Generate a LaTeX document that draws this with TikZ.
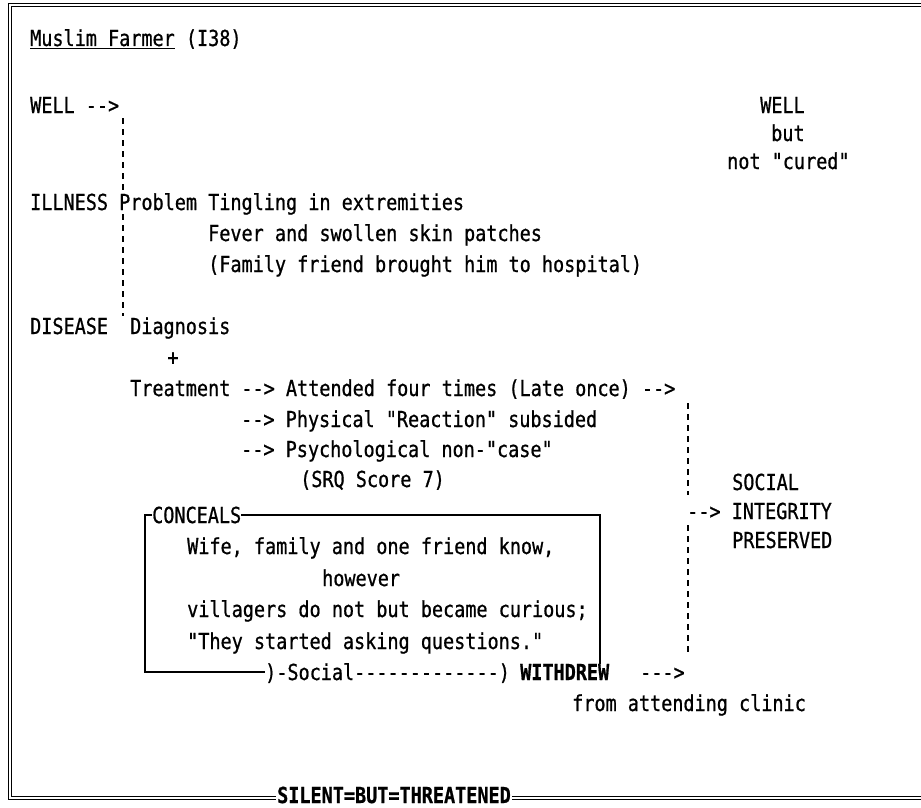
\documentclass[tikz,border=0pt]{standalone}
\usepackage{fontspec}
\setmonofont[FakeStretch=0.84,FakeBold=0.8]{DejaVu Sans Mono}
\usepackage{tikz}

\tikzset{
  typed/.style={font=\ttfamily\fontsize{22}{25}\selectfont, inner sep=0pt,
    text height=16pt, text depth=0pt, anchor=west},
  dashline/.style={line width=1.4pt, dash pattern=on 6pt off 5pt},
  boxline/.style={line width=1.4pt},
  frameline/.style={double, line width=0.9pt, double distance=1.6pt}
}

\begin{document}
\begin{tikzpicture}[x=1pt,y=-1pt]
\useasboundingbox (0,0) rectangle (921,808);
% outer frame, open on the right
\draw[frameline] (921,5) -- (10,5) -- (10,798) -- (921,798);

\node (title) at (30,38) [typed] {\underline{Muslim Farmer} (I38)};

% well -> illness -> disease
\node (wellL) at (30,105) [typed] {WELL -->};
\node (wellR) at (760,105) [typed] {WELL};
\node (but) at (771,133) [typed] {but};
\node (cured) at (727,161) [typed] {not "cured"};
\node (illness) at (30,202) [typed] {ILLNESS Problem Tingling in extremities};
\node (fever) at (208,233) [typed] {Fever and swollen skin patches};
\node (family) at (208,264) [typed] {(Family friend brought him to hospital)};
\node (disease) at (30,326) [typed] {DISEASE};
\node (diag) at (130,326) [typed] {Diagnosis};
\node (plus) at (173,357) [typed,anchor=center] {+};
\coordinate (ldA) at (123,118);
\coordinate (ldB) at (123,190);
\coordinate (ldC) at (123,214);
\coordinate (ldD) at (123,316);
\draw[dashline] (ldA) -- (ldB);
\draw[dashline] (ldC) -- (ldD);

% treatment
\node (treat) at (130,388) [typed] {Treatment --> Attended four times (Late once) -->};
\node (phys) at (241,419) [typed] {--> Physical "Reaction" subsided};
\node (psych) at (241,449) [typed] {--> Psychological non-"case"};
\node (srq) at (300,479) [typed] {(SRQ Score 7)};
\node (social) at (732,482) [typed] {SOCIAL};
\node (integ) at (687,511) [typed] {--> INTEGRITY};
\node (pres) at (732,540) [typed] {PRESERVED};
\coordinate (rdA) at (688,403);
\coordinate (rdB) at (688,495);
\coordinate (rdC) at (688,525);
\coordinate (rdD) at (688,655);
\draw[dashline] (rdA) -- (rdB);
\draw[dashline] (rdC) -- (rdD);

% concealment box
\node (conceals) at (152,515) [typed] {CONCEALS};
\node (wife) at (187,546) [typed] {Wife, family and one friend know,};
\node (however) at (322,578) [typed] {however};
\node (villagers) at (187,609) [typed] {villagers do not but became curious;};
\node (asking) at (187,641) [typed] {"They started asking questions."};
\node (socialB) at (265,672) [typed] {)-Social-------------)};
\node (withdrew) at (520,672) [typed] {\bfseries WITHDREW};
\node (wdArrow) at (640,672) [typed] {--->};
\node (clinic) at (572,703) [typed] {from attending clinic};
\coordinate (boxNE) at (600,515);
\coordinate (boxSW) at (145,672);
\draw[boxline] (conceals.west) -- (conceals.west -| boxSW) -- (boxSW) -- (socialB.west);
\draw[boxline] (conceals.east) -- (boxNE) -- (boxNE |- withdrew.north);

\node (silent) at (394,795) [typed,anchor=center,fill=white,inner xsep=1pt] {\bfseries SILENT=BUT=THREATENED};
\end{tikzpicture}
\end{document}
